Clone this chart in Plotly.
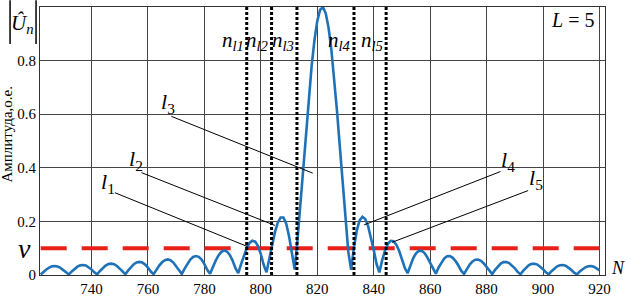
import plotly.graph_objects as go

# ---- data ----
N_start, N_end = 722, 920
N = list(range(N_start, N_end + 1))
amp = [
    0.0020, 0.0119, 0.0207, 0.0278, 0.0322, 0.0335, 0.0316, 0.0265, 0.0186, 0.0087,
    0.0022, 0.0132, 0.0231, 0.0310, 0.0360, 0.0375, 0.0353, 0.0296, 0.0209, 0.0098,
    0.0025, 0.0149, 0.0261, 0.0350, 0.0407, 0.0425, 0.0401, 0.0337, 0.0238, 0.0112,
    0.0029, 0.0170, 0.0299, 0.0402, 0.0469, 0.0490, 0.0464, 0.0391, 0.0276, 0.0130,
    0.0033, 0.0199, 0.0351, 0.0473, 0.0553, 0.0580, 0.0550, 0.0465, 0.0329, 0.0156,
    0.0040, 0.0240, 0.0424, 0.0574, 0.0674, 0.0709, 0.0676, 0.0573, 0.0408, 0.0194,
    0.0050, 0.0302, 0.0536, 0.0730, 0.0862, 0.0913, 0.0876, 0.0748, 0.0537, 0.0257,
    0.0067, 0.0407, 0.0729, 0.1002, 0.1196, 0.1281, 0.1244, 0.1076, 0.0783, 0.0381,
    0.0101, 0.0623, 0.1139, 0.1599, 0.1952, 0.2146, 0.2145, 0.1917, 0.1446, 0.0734,
    0.0204, 0.1331, 0.2600, 0.3951, 0.5318, 0.6618, 0.7790, 0.8765, 0.9479, 0.9895,
    0.9993, 0.9764, 0.9222, 0.8398, 0.7341, 0.6109, 0.4774, 0.3411, 0.2080, 0.0861,
    0.0196, 0.1046, 0.1662, 0.2035, 0.2172, 0.2090, 0.1827, 0.1427, 0.0938, 0.0413,
    0.0099, 0.0553, 0.0913, 0.1158, 0.1275, 0.1261, 0.1130, 0.0902, 0.0605, 0.0271,
    0.0066, 0.0375, 0.0630, 0.0809, 0.0902, 0.0903, 0.0818, 0.0660, 0.0447, 0.0202,
    0.0050, 0.0284, 0.0481, 0.0622, 0.0698, 0.0703, 0.0641, 0.0520, 0.0354, 0.0161,
    0.0040, 0.0229, 0.0388, 0.0505, 0.0569, 0.0576, 0.0527, 0.0429, 0.0293, 0.0134,
    0.0033, 0.0191, 0.0326, 0.0425, 0.0480, 0.0487, 0.0447, 0.0365, 0.0250, 0.0115,
    0.0029, 0.0165, 0.0281, 0.0367, 0.0416, 0.0422, 0.0389, 0.0318, 0.0218, 0.0100,
    0.0025, 0.0144, 0.0247, 0.0323, 0.0366, 0.0373, 0.0343, 0.0281, 0.0193, 0.0089,
    0.0022, 0.0128, 0.0220, 0.0288, 0.0327, 0.0334, 0.0308, 0.0253, 0.0174,
]
nu = 0.1
crossings = [795.0, 803.8, 812.8, 833.0, 844.4]
crossing_labels = ["l1", "l2", "l3", "l4", "l5"]
x_ticks = [740, 760, 780, 800, 820, 840, 860, 880, 900, 920]
y_ticks = [0, 0.2, 0.4, 0.6, 0.8]
y_ticktext = ["0", "0.2", "0.4", "0.6", "0.8"]
L_value = 5

SERIF = "Times New Roman, Liberation Serif, serif"
BLUE = "#1f72b8"
RED = "#e8201a"

fig = go.Figure()

# threshold line nu
fig.add_trace(go.Scatter(
    x=[N_start, N_end], y=[nu, nu], mode="lines",
    line=dict(color=RED, width=4, dash="26px,15px"),
    hoverinfo="skip", showlegend=False))

# spectrum curve
fig.add_trace(go.Scatter(
    x=N, y=amp, mode="lines",
    line=dict(color=BLUE, width=2.6),
    showlegend=False))

shapes = []
annotations = []

# dotted vertical lines at crossing points + labels
for xc, lab in zip(crossings, crossing_labels):
    shapes.append(dict(type="line", xref="x", yref="paper", x0=xc, x1=xc, y0=0, y1=1,
                       line=dict(color="black", width=3, dash="3px,2px"), layer="above"))
    annotations.append(dict(x=xc, y=0.875, xref="x", yref="y", xanchor="right", yanchor="middle",
                            text=f"<i>n</i><sub><i>{lab}</i></sub>", showarrow=False,
                            xshift=-1, font=dict(family=SERIF, size=21, color="black")))

# leader lines l1..l5 (start point near label, end point on the curve)
leaders = [
    ((748.3, 0.307), (795.3, 0.106)),
    ((757.7, 0.382), (805.0, 0.185)),
    ((768.3, 0.592), (818.4, 0.380)),
    ((884.9, 0.386), (836.6, 0.187)),
    ((894.7, 0.315), (846.5, 0.122)),
]
label_pos = [(745.8, 0.345), (755.8, 0.430), (767.1, 0.642), (887.6, 0.426), (897.5, 0.359)]
for i, ((x0, y0), (x1, y1)) in enumerate(leaders):
    shapes.append(dict(type="line", xref="x", yref="y", x0=x0, y0=y0, x1=x1, y1=y1,
                       line=dict(color="black", width=1), layer="above"))
    lx, ly = label_pos[i]
    annotations.append(dict(x=lx, y=ly, xref="x", yref="y", showarrow=False,
                            xanchor="center", yanchor="middle",
                            text=f"<i>l</i><sub>{i + 1}</sub>",
                            font=dict(family=SERIF, size=22, color="black")))

# L = 5 box label
annotations.append(dict(x=910.3, y=0.95, xref="x", yref="y", showarrow=False,
                        xanchor="center", yanchor="middle",
                        text=f"<i>L</i> = {L_value}",
                        font=dict(family=SERIF, size=20, color="black")))

# nu label on the y axis
annotations.append(dict(x=-0.027, y=nu, xref="paper", yref="y", showarrow=False,
                        xanchor="center", yanchor="middle",
                        text="<i>ν</i>", font=dict(family=SERIF, size=28, color="black")))

# |U_n| label at top-left
annotations.append(dict(x=-0.031, y=0.935, xref="paper", yref="paper", showarrow=False,
                        xanchor="center", yanchor="middle",
                        text="<i>Û</i><sub><i>n</i></sub>",
                        font=dict(family=SERIF, size=21, color="black")))
for bx in [-0.053, -0.007]:
    shapes.append(dict(type="line", xref="paper", yref="paper", x0=bx, x1=bx,
                       y0=0.862, y1=1.025, line=dict(color="black", width=1.5)))

# N axis label
annotations.append(dict(x=1.023, y=0.025, xref="paper", yref="paper", showarrow=False,
                        xanchor="center", yanchor="middle",
                        text="<i>N</i>", font=dict(family=SERIF, size=18, color="black")))

# y axis title
annotations.append(dict(x=-0.058, y=0.525, xref="paper", yref="paper", showarrow=False,
                        xanchor="center", yanchor="middle",
                        text="Амплитуда,о.е.", textangle=-90,
                        font=dict(family=SERIF, size=15, color="black")))

fig.update_layout(
    width=625, height=307,
    margin=dict(l=40, r=20, t=7, b=32, autoexpand=False),
    paper_bgcolor="white", plot_bgcolor="white",
    shapes=shapes, annotations=annotations,
    font=dict(family=SERIF, size=15, color="black"),
    xaxis=dict(range=[721.75, 921.95], tickvals=x_ticks, showgrid=True,
               gridcolor="#444444", gridwidth=1, zeroline=False, automargin=False,
               showline=True, linecolor="#333333", linewidth=1, mirror=True,
               ticks="", tickfont=dict(family=SERIF, size=15)),
    yaxis=dict(range=[0, 1.0], tickvals=y_ticks, ticktext=y_ticktext, showgrid=True,
               gridcolor="#444444", gridwidth=1, zeroline=False, automargin=False,
               showline=True, linecolor="#333333", linewidth=1, mirror=True,
               ticks="", tickfont=dict(family=SERIF, size=15)),
)

fig.write_html("out.html", config={"displayModeBar": False},
               post_script="document.body.style.margin='0';document.body.style.padding='0';")
